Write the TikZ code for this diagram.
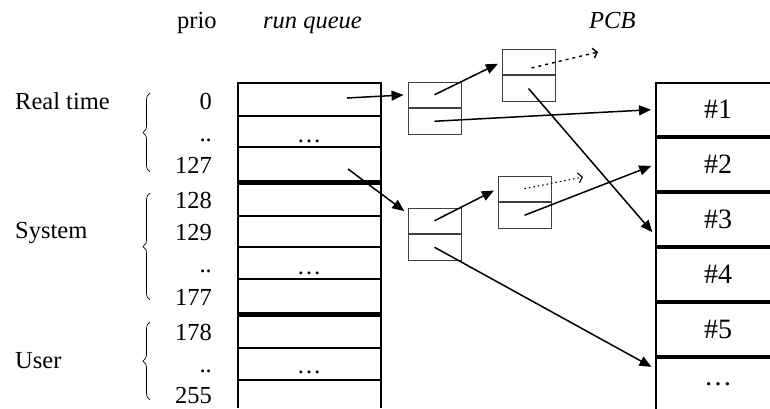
\documentclass[tikz,border=0pt]{standalone}
\usepackage{fontspec}
\setmainfont{Liberation Serif}
\usetikzlibrary{positioning, arrows.meta, decorations.pathreplacing}

\begin{document}
\begin{tikzpicture}[
        x=1pt, y=-1pt,
        base/.style={inner sep=0pt, font=\fontsize{24.5}{28}\selectfont},
        head/.style={inner sep=0pt, anchor=base west, font=\fontsize{24.5}{28}\selectfont\itshape},
        num/.style={base, anchor=base east},
        lbl/.style={base, anchor=base west},
        gap/.style={base, anchor=base},
        pcb/.style={draw=black!75, line width=1pt, minimum width=53pt, minimum height=25.5pt, inner sep=0pt},
        proc/.style={draw, line width=2pt, minimum width=124pt, minimum height=53pt, inner sep=0pt, font=\fontsize{28}{32}\selectfont},
        arr/.style={-{Triangle[length=12pt, width=10pt]}, line width=1.5pt, shorten >=4pt},
        hint/.style={-{Straight Barb[length=4pt, width=10pt]}, line width=1.4pt, dash pattern=on 3pt off 4pt},
        grp/.style={decorate, decoration={brace, amplitude=7pt}, line width=0.7pt}
    ]
    \clip (0,0) rectangle (770,408);

    % headings
    \node[lbl] (prio) at (177,28) {prio};
    \node[head] (rqhead) at (263,28) {run queue};
    \node[head] (pcbhead) at (589,28) {PCB};

    % run queue
    \draw[line width=2.2pt] (238,408) -- (238,83) -- (381,83) -- (381,408);
    \foreach \y in {116,147,216,247,279,348,380}
        \draw[line width=2pt] (238,\y) -- (381,\y);
    \foreach \y in {182,314}
        \draw[line width=5pt] (238,\y) -- (381,\y);
    \node[gap] (gap1) at (309,142) {\ldots};
    \node[gap] (gap2) at (309,274) {\ldots};
    \node[gap] (gap3) at (309,373) {\ldots};

    % priorities
    \foreach \v/\y/\n in {0/109/p0, ../141/p1, 127/173/p2, 128/208/p3, 129/240/p4,
                          ../272/p5, 177/305/p6, 178/340/p7, ../372/p8, 255/403/p9}
        \node[num] (\n) at (212,\y) {\v};

    % classes
    \node[lbl] (rt) at (15,109) {Real time};
    \node[lbl] (sys) at (15,238) {System};
    \node[lbl] (usr) at (15,368) {User};
    \draw[grp] (150,172) -- (150,93);
    \draw[grp] (150,300) -- (150,193);
    \draw[grp] (150,400) -- (150,322);

    % PCB lists
    \node[pcb] (pcbAt) at (434.5,94.75) {};
    \node[pcb, below=0pt of pcbAt] (pcbAb) {};
    \node[pcb] (pcbBt) at (528.5,62) {};
    \node[pcb, below=0pt of pcbBt] (pcbBb) {};
    \node[pcb] (pcbCt) at (434.5,220.75) {};
    \node[pcb, below=0pt of pcbCt] (pcbCb) {};
    \node[pcb] (pcbDt) at (524.5,188.75) {};
    \node[pcb, below=0pt of pcbDt] (pcbDb) {};

    % processes
    \node[proc] (proc1) at (718,109.5) {\#1};
    \node[proc, below=0pt of proc1] (proc2) {\#2};
    \node[proc, below=0pt of proc2] (proc3) {\#3};
    \node[proc, below=0pt of proc3] (proc4) {\#4};
    \node[proc, below=0pt of proc4] (proc5) {\#5};
    \node[proc, below=0pt of proc5] (proc6) {\ldots};

    \coordinate (rq0) at (347,98);
    \coordinate (rq127) at (348,169);
    \coordinate (nextB) at (598,52);
    \coordinate (nextD) at (583,177);

    \draw[arr] (rq0) -- (pcbAt.west);
    \draw[arr] (pcbAt.center) -- (pcbBt.west);
    \draw[arr] (pcbAb.center) -- (proc1.west);
    \draw[hint] ([shift={(3pt,-6pt)}]pcbBt.center) -- (nextB);
    \draw[arr] (pcbBb.center) -- (proc3.194);
    \draw[arr] (rq127) -- (pcbCt.165);
    \draw[arr] (pcbCt.center) -- (pcbDt.west);
    \draw[hint, line width=1.1pt, dash pattern=on 1.5pt off 3pt] (pcbDt.center) -- (nextD);
    \draw[arr] (pcbDb.center) -- (proc2.west);
    \draw[arr] (pcbCb.center) -- (proc6.166);
\end{tikzpicture}
\end{document}
